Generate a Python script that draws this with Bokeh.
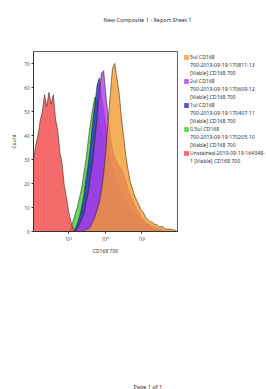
from bokeh.plotting import figure
from bokeh.models import Range1d, FixedTicker, Legend, LegendItem, Title, LinearAxis
from bokeh.embed import file_html
from bokeh.resources import INLINE

# ---------------- data ----------------
bin_width = 0.06                       # log10 units per histogram bin
unstained_start = 2.05
stained_start = 3.0

unstained = [30, 36, 40, 46, 50, 57, 52, 58, 53, 57, 47, 42, 33, 28, 19, 14, 8, 4, 1, 0]

ul05 = [0, 1, 4, 7, 10, 14, 18, 24, 30, 38, 45, 51, 56, 55, 47, 42, 34, 28, 23, 19,
        16, 14, 12, 11, 10, 9, 8, 7, 6, 5, 4, 4, 3, 3, 2, 2, 1, 1, 1, 0]
ul1 = [0, 0, 0, 1, 3, 6, 10, 15, 22, 28, 36, 45, 53, 61, 64, 57, 51, 44, 36, 30,
       26, 23, 21, 19, 17, 15, 13, 11, 10, 9, 8, 7, 6, 5, 4, 3, 3, 2, 2, 1, 1, 1, 0]
ul2 = [0, 0, 0, 0, 1, 3, 5, 7, 12, 16, 23, 29, 38, 47, 58, 66, 67, 57, 48, 40,
       34, 31, 29, 27, 26, 24, 21, 18, 15, 13, 11, 9, 8, 6, 5, 4, 3, 3, 2, 2,
       1, 1, 1, 0.5, 0]
ul5 = [0, 0, 0, 0, 0, 0, 0, 0, 1, 1, 2, 4, 6, 9, 12, 17, 24, 34, 46, 57,
       68, 70, 64, 58, 48, 40, 32, 26, 21, 18, 15, 13, 11, 9, 8, 6, 5, 4, 4, 3,
       3, 2, 2, 2, 1, 1, 1, 1, 0.5, 0.3]

series_names = ["5ul CD168\n700-2019-09-19-170811-13\n[Viable] CD168 700",
                "2ul CD168\n700-2019-09-19-170609-12\n[Viable] CD168 700",
                "1ul CD168\n700-2019-09-19-170407-11\n[Viable] CD168 700",
                "0.5ul CD168\n700-2019-09-19-170205-10\n[Viable] CD168 700",
                "Unstained-2019-09-19-164348-\n1 [Viable] CD168 700"]
series_colors = ["#F29A30", "#B43CEC", "#2A2AC8", "#3CCC3C", "#F24545"]

y_ticks = [0, 10, 20, 30, 40, 50, 60, 70]
x_ticks = [3, 4, 5, 6]
x_tick_labels = ["10³", "10⁴", "10⁵", "10⁶"]

sheet_title = "New Composite 1 - Report Sheet 1"
page_text = "Page 1 of 1"

FONT = "Noto Sans"

# ---------------- figure ----------------
p = figure(width=266, height=389, output_backend="svg", toolbar_location=None,
           x_range=Range1d(2.05, 5.97), y_range=Range1d(0, 75),
           min_border_left=33, min_border_right=89, min_border_top=51,
           min_border_bottom=158)
p.frame_width = 144
p.frame_height = 180
p.xgrid.visible = False
p.ygrid.visible = False
p.outline_line_color = "#333333"
p.outline_line_width = 0.8
p.background_fill_color = "white"
p.border_fill_color = "white"

for ax in (p.xaxis[0], p.yaxis[0]):
    ax.axis_line_color = "#333333"
    ax.major_tick_line_color = "#333333"
    ax.minor_tick_line_color = None
    ax.major_tick_out = 2
    ax.major_tick_in = 0
    ax.major_label_text_font = FONT
    ax.major_label_text_font_size = "4.5px"
    ax.major_label_text_color = "#444444"
    ax.axis_label_text_font = FONT
    ax.axis_label_text_font_size = "5px"
    ax.axis_label_text_font_style = "normal"
    ax.axis_label_text_color = "#333333"
    ax.major_label_standoff = 2

p.yaxis.ticker = FixedTicker(ticks=y_ticks)
p.xaxis.ticker = FixedTicker(ticks=x_ticks)
p.xaxis.major_label_overrides = {t: l for t, l in zip(x_ticks, x_tick_labels)}
p.yaxis.axis_label = "Count"
p.xaxis.axis_label = "CD168 700"
p.yaxis.axis_label_standoff = 4
p.xaxis.axis_label_standoff = 3


def hist_patch(start, counts):
    xs = [start + i * bin_width for i in range(len(counts))]
    px = [xs[0]] + xs + [xs[-1]]
    py = [0] + counts + [0]
    return xs, counts, px, py


data_series = [ul5, ul2, ul1, ul05, unstained]
starts = [stained_start] * 4 + [unstained_start]

renderers = {}
# draw back-to-front: 0.5ul, 1ul, 2ul, 5ul, unstained
for idx in [3, 2, 1, 0, 4]:
    xs, ys, px, py = hist_patch(starts[idx], data_series[idx])
    r = p.patch(px, py, fill_color=series_colors[idx], fill_alpha=0.8,
                line_color="#555555", line_alpha=0.0)
    p.line(xs, ys, line_color="#2a1a10", line_width=0.7, line_alpha=0.75)
    renderers[idx] = r

# invisible renderer used for the continuation lines of the legend labels
blank = p.patch([], [], fill_alpha=0, line_alpha=0)

items = []
for i in range(5):
    lines = series_names[i].split("\n")
    items.append(LegendItem(label=lines[0], renderers=[renderers[i]]))
    for extra in lines[1:]:
        items.append(LegendItem(label=extra, renderers=[blank]))

legend = Legend(items=items, location=(6, 66), padding=0, spacing=0, margin=0,
                glyph_width=6, glyph_height=6, label_standoff=1,
                label_text_font=FONT, label_text_font_size="5.2px",
                label_text_color="#333333", label_height=7,
                label_text_baseline="middle",
                background_fill_alpha=0, border_line_alpha=0)
p.add_layout(legend, "right")


def spacer_axis(gap):
    # an empty axis that only reserves room in a side panel
    return LinearAxis(ticker=FixedTicker(ticks=[]), axis_line_color=None,
                      major_tick_line_color=None, minor_tick_line_color=None,
                      major_tick_out=0, major_tick_in=0, minor_tick_out=0,
                      major_label_standoff=0, axis_label=".",
                      axis_label_standoff=gap, axis_label_text_alpha=0,
                      axis_label_text_font_size="1px")


p.add_layout(spacer_axis(24), "above")
title = Title(text=sheet_title, align="left", offset=70,
              text_font=FONT, text_font_size="5.5px", text_font_style="normal",
              text_color="#333333", standoff=0)
p.add_layout(title, "above")

p.add_layout(spacer_axis(120), "below")
page = Title(text=page_text, align="left", offset=100,
             text_font=FONT, text_font_size="5.5px", text_font_style="normal",
             text_color="#333333", standoff=0)
p.add_layout(page, "below")

open("out.html", "w").write(file_html(p, INLINE))
